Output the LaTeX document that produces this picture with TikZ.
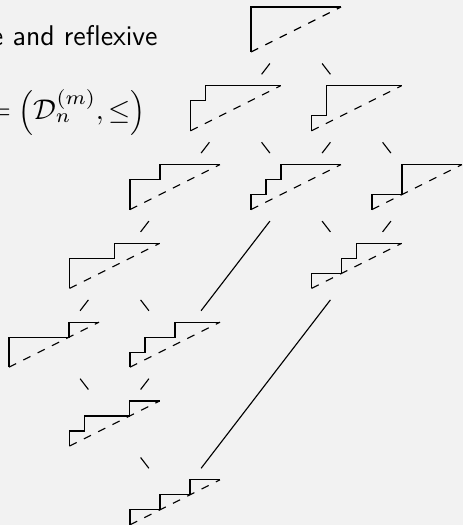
\RequirePackage{fix-cm}
\documentclass[tikz,border=0pt]{standalone}
\usetikzlibrary{calc}
\definecolor{bgcol}{RGB}{242,242,242}
\tikzset{
  lat/.style={rectangle, inner sep=0pt, minimum width=44.8pt, minimum height=26.8pt},
  dyckline/.style={line width=0.45pt, black, line join=miter},
  diagline/.style={line width=0.45pt, black, dash pattern=on 3.2pt off 3.2pt},
  edgeline/.style={line width=0.45pt, black},
  txt/.style={inner sep=0pt, font=\fontsize{11.4}{13.7}\selectfont\sffamily}
}
\newcommand\dyckdraw[2]{%
  \draw[dyckline] ($(#1.center)+(-45,22.5)$) #2;
  \draw[diagline] ($(#1.center)+(-45,22.5)$) -- ++(90,-45);
}
\begin{document}
\begin{tikzpicture}[x=0.4pt,y=-0.4pt]
\useasboundingbox (0,0) rectangle (463,525);
\fill[bgcol] (0,0) rectangle (463,525);
\clip (0,0) rectangle (463,525);
% text
\node[txt, anchor=base west] (t1) at (-9.5,45.7) {e and reflexive};
\node[txt, anchor=base west] (t2) at (-11.6,119.7) {$=\left(\mathcal{D}_n^{(m)},\leq\right)$};
% lattice nodes
\node[lat] (T)   at (296,29.5) {};
\node[lat] (R2L) at (235.5,108.3) {};
\node[lat] (R2R) at (356.5,108.3) {};
\node[lat] (R3L) at (175,187.1) {};
\node[lat] (R3M) at (296,187.1) {};
\node[lat] (R3R) at (417,187.1) {};
\node[lat] (R4L) at (114.5,265.9) {};
\node[lat] (R4R) at (356.5,265.9) {};
\node[lat] (R5L) at (54,344.7) {};
\node[lat] (R5R) at (175,344.7) {};
\node[lat] (R6)  at (114.5,423.5) {};
\node[lat] (R7)  at (175,502.3) {};
% paths
\dyckdraw{T}{-- ++(0,-45) -- ++(90,0)}
\dyckdraw{R2L}{-- ++(0,-30) -- ++(15,0) -- ++(0,-15) -- ++(75,0)}
\dyckdraw{R2R}{-- ++(0,-15) -- ++(15,0) -- ++(0,-30) -- ++(75,0)}
\dyckdraw{R3L}{-- ++(0,-30) -- ++(30,0) -- ++(0,-15) -- ++(60,0)}
\dyckdraw{R3M}{-- ++(0,-15) -- ++(15,0) -- ++(0,-15) -- ++(15,0) -- ++(0,-15) -- ++(60,0)}
\dyckdraw{R3R}{-- ++(0,-15) -- ++(30,0) -- ++(0,-30) -- ++(60,0)}
\dyckdraw{R4L}{-- ++(0,-30) -- ++(45,0) -- ++(0,-15) -- ++(45,0)}
\dyckdraw{R4R}{-- ++(0,-15) -- ++(30,0) -- ++(0,-15) -- ++(15,0) -- ++(0,-15) -- ++(45,0)}
\dyckdraw{R5L}{-- ++(0,-30) -- ++(60,0) -- ++(0,-15) -- ++(30,0)}
\dyckdraw{R5R}{-- ++(0,-15) -- ++(15,0) -- ++(0,-15) -- ++(30,0) -- ++(0,-15) -- ++(45,0)}
\dyckdraw{R6}{-- ++(0,-15) -- ++(15,0) -- ++(0,-15) -- ++(45,0) -- ++(0,-15) -- ++(30,0)}
\dyckdraw{R7}{-- ++(0,-15) -- ++(30,0) -- ++(0,-15) -- ++(30,0) -- ++(0,-15) -- ++(30,0)}
% edges
\draw[edgeline] (T) -- (R2L);
\draw[edgeline] (T) -- (R2R);
\draw[edgeline] (R2L) -- (R3L);
\draw[edgeline] (R2L) -- (R3M);
\draw[edgeline] (R2R) -- (R3M);
\draw[edgeline] (R2R) -- (R3R);
\draw[edgeline] (R3L) -- (R4L);
\draw[edgeline] (R3M) -- (R5R);
\draw[edgeline] (R3M) -- (R4R);
\draw[edgeline] (R3R) -- (R4R);
\draw[edgeline] (R4L) -- (R5L);
\draw[edgeline] (R4L) -- (R5R);
\draw[edgeline] (R4R) -- (R7);
\draw[edgeline] (R5L) -- (R6);
\draw[edgeline] (R5R) -- (R6);
\draw[edgeline] (R6) -- (R7);
\end{tikzpicture}
\end{document}
